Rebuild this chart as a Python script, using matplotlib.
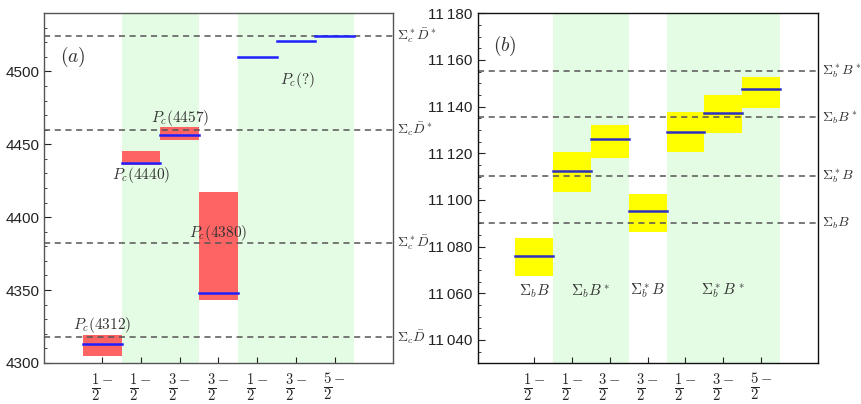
import numpy as np
import matplotlib
matplotlib.use('Agg')
import matplotlib.pyplot as plt
from matplotlib.ticker import MultipleLocator, FuncFormatter

plt.rcParams['mathtext.fontset'] = 'cm'
plt.rcParams['font.family'] = ['Liberation Sans', 'DejaVu Sans']

# spin-parity slots on the x axis
slots = [1, 2, 3, 4, 5, 6, 7]
slot_labels = [r'$\frac{1}{2}^{-}$', r'$\frac{1}{2}^{-}$', r'$\frac{3}{2}^{-}$', r'$\frac{3}{2}^{-}$',
               r'$\frac{1}{2}^{-}$', r'$\frac{3}{2}^{-}$', r'$\frac{5}{2}^{-}$']
green_bands = [(1.5, 3.5), (4.5, 7.5)]

# panel (a): hidden-charm pentaquarks
a_mass = [4313.0, 4437.2, 4456.6, 4347.7, 4509.8, 4520.8, 4524.2]
a_low = [4304.8, 4435.6, 4452.7, 4343.0, None, None, None]
a_high = [4319.2, 4445.2, 4461.6, 4417.0, None, None, None]
a_thr = [4318.0, 4382.4, 4460.0, 4524.4]
a_thr_names = [r'$\Sigma_c\bar{D}$', r'$\Sigma_c^*\bar{D}$', r'$\Sigma_c\bar{D}^*$', r'$\Sigma_c^*\bar{D}^*$']
a_names = [r'$P_c(4312)$', r'$P_c(4440)$', r'$P_c(4457)$', r'$P_c(4380)$', r'$P_c(?)$']
a_name_pos = [(1, 4326), (2, 4429), (3, 4468), (4, 4389), (6.05, 4494)]

# panel (b): hidden-bottom partners
b_mass = [11076.1, 11112.6, 11126.3, 11095.3, 11129.3, 11137.4, 11147.4]
b_low = [11067.3, 11103.3, 11118.1, 11086.1, 11120.7, 11128.7, 11139.3]
b_high = [11083.6, 11120.4, 11132.0, 11102.6, 11137.6, 11145.1, 11152.7]
b_thr = [11090.1, 11110.1, 11135.4, 11155.3]
b_thr_names = [r'$\Sigma_bB$', r'$\Sigma_b^*B$', r'$\Sigma_bB^*$', r'$\Sigma_b^*B^*$']
b_names = [r'$\Sigma_bB$', r'$\Sigma_bB^*$', r'$\Sigma_b^*B$', r'$\Sigma_b^*B^*$']
b_name_x = [1, 2.5, 4, 6]


def draw_panel(ax, mass, low, high, thr, thr_names, box_color, line_color, spine_color):
    ax.set_xlim(-0.5, 8.5)
    for x0, x1 in green_bands:
        ax.axvspan(x0, x1, color='#e4fbe4', lw=0, zorder=0)
    for x, m, lo, hi in zip(slots, mass, low, high):
        if lo is not None:
            ax.fill_between([x - 0.5, x + 0.5], lo, hi, color=box_color, lw=0, zorder=1)
        ax.plot([x - 0.5, x + 0.5], [m, m], color=line_color, lw=1.8, zorder=3)
    for t, name in zip(thr, thr_names):
        ax.axhline(t, color='#555555', ls=(0, (4, 3)), lw=1.1, zorder=2)
        ax.annotate(name, xy=(1.0, t), xycoords=('axes fraction', 'data'),
                    xytext=(3, 0), textcoords='offset points', va='center', ha='left',
                    fontsize=10, color='#333333')
    ax.set_xticks(slots)
    ax.set_xticklabels(slot_labels, fontsize=15)
    ax.tick_params(axis='x', direction='in', length=4, pad=6, colors='#222222')
    ax.tick_params(axis='y', which='both', direction='in', labelsize=11, colors='#222222')
    ax.tick_params(axis='y', which='major', length=5)
    ax.tick_params(axis='y', which='minor', length=2.5)
    for s in ax.spines.values():
        s.set_color(spine_color)
        s.set_linewidth(1.0)


fig = plt.figure(figsize=(8.61, 4.04), dpi=100)
ax1 = fig.add_axes([0.0511, 0.1015, 0.4053, 0.8663])
ax2 = fig.add_axes([0.5548, 0.1007, 0.3949, 0.8663])

draw_panel(ax1, a_mass, a_low, a_high, a_thr, a_thr_names, '#ff6464', '#1f1fff', '#555555')
ax1.set_ylim(4300, 4540)
ax1.yaxis.set_major_locator(MultipleLocator(50))
ax1.yaxis.set_minor_locator(MultipleLocator(10))
for name, (x, y) in zip(a_names, a_name_pos):
    ax1.text(x, y, name, ha='center', va='center', fontsize=11, color='#333333', zorder=4)
ax1.text(0.25, 4510, r'$(a)$', ha='center', va='center', fontsize=14, color='#333333')

draw_panel(ax2, b_mass, b_low, b_high, b_thr, b_thr_names, '#ffff00', '#3030c0', '#111111')
ax2.set_ylim(11030, 11180)
ax2.yaxis.set_major_locator(MultipleLocator(20))
ax2.yaxis.set_minor_locator(MultipleLocator(5))
ax2.yaxis.set_major_formatter(FuncFormatter(lambda v, p: '%d\u2009%03d' % (int(v) // 1000, int(v) % 1000)))
for name, x in zip(b_names, b_name_x):
    ax2.text(x, 11061, name, ha='center', va='center', fontsize=11, color='#333333')
ax2.text(0.22, 11166, r'$(b)$', ha='center', va='center', fontsize=14, color='#333333')

fig.savefig('out.png', dpi=100)
